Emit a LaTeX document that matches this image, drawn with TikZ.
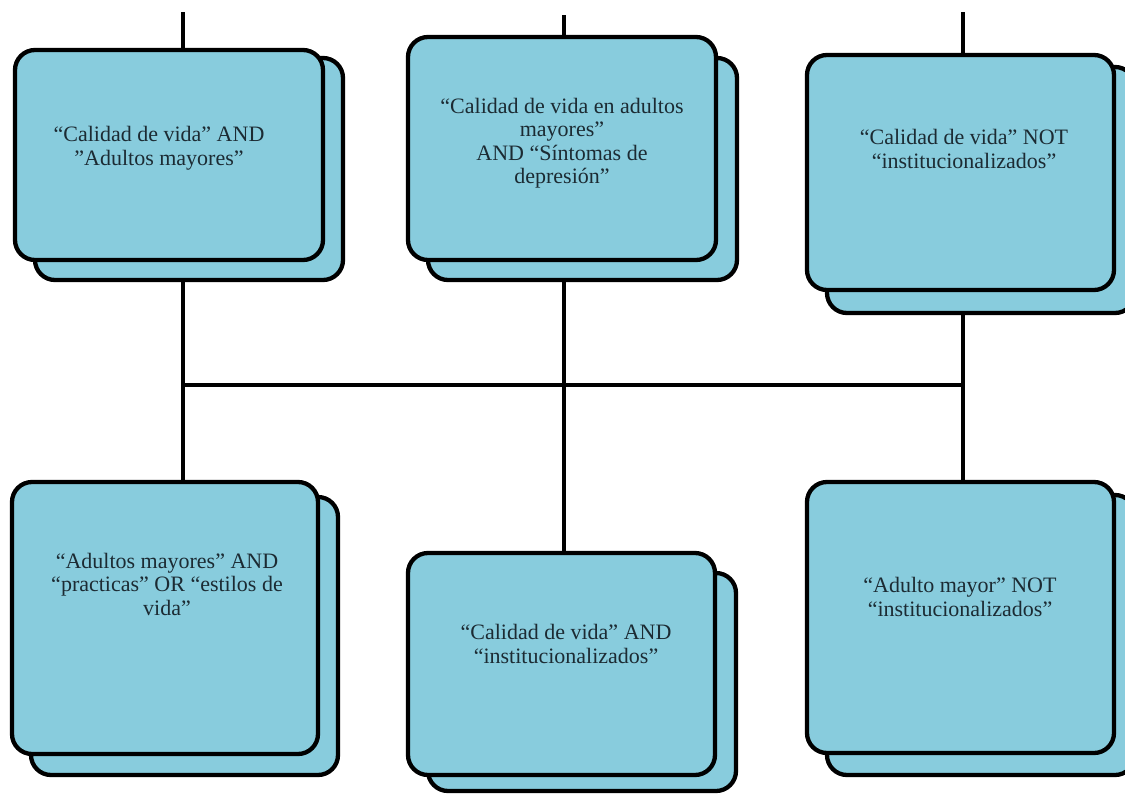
\documentclass[tikz,border=0pt]{standalone}
\usepackage{fontspec}
\setmainfont{Liberation Serif}
\usetikzlibrary{backgrounds}
\definecolor{boxfill}{HTML}{88CCDD}
\definecolor{txt}{HTML}{1C2B33}
\tikzset{
  card/.style={draw=black, line width=4.3pt, fill=boxfill, rounded corners=20pt, inner sep=0pt},
  cardtext/.style={inner sep=0pt, align=center, text=txt, font=\fontsize{22}{23.5}\selectfont},
  wire/.style={draw=black, line width=4pt}
}
\begin{document}
\begin{tikzpicture}[x=1pt,y=-1pt]
\useasboundingbox (0,0) rectangle (1125,793);
% top row
\node[card, minimum width=308pt, minimum height=222pt] (b1s) at (189,169) {};
\node[card, minimum width=308pt, minimum height=210pt] (b1) at (169,155) {};
\node[card, minimum width=309pt, minimum height=222pt] (b2s) at (582.5,169) {};
\node[card, minimum width=308pt, minimum height=223pt] (b2) at (562,148.5) {};
\node[card, minimum width=308pt, minimum height=246pt] (b3s) at (981,190) {};
\node[card, minimum width=307pt, minimum height=235pt] (b3) at (960.5,172.5) {};
% bottom row
\node[card, minimum width=307pt, minimum height=278pt] (b4s) at (184.5,636) {};
\node[card, minimum width=306pt, minimum height=272pt] (b4) at (165,618) {};
\node[card, minimum width=308pt, minimum height=218pt] (b5s) at (582,682) {};
\node[card, minimum width=307pt, minimum height=222pt] (b5) at (561.5,664) {};
\node[card, minimum width=308pt, minimum height=280pt] (b6s) at (981,635) {};
\node[card, minimum width=307pt, minimum height=271pt] (b6) at (960.5,617.5) {};
% texts
\node[cardtext] (t1) at (159,148) {“Calidad de vida” AND\\ ”Adultos mayores”};
\node[cardtext] (t2) at (562,143) {“Calidad de vida en adultos\\ mayores”\\ AND “Síntomas de\\ depresión”};
\node[cardtext] (t3) at (964,149) {“Calidad de vida” NOT\\ “institucionalizados”};
\node[cardtext] (t4) at (167,584) {“Adultos mayores” AND\\ “practicas” OR “estilos de\\ vida”};
\node[cardtext] (t5) at (566,644) {“Calidad de vida” AND\\ “institucionalizados”};
\node[cardtext] (t6) at (960,597) {“Adulto mayor” NOT\\ “institucionalizados”};
% connector end points
\coordinate (s1) at (183,12);
\coordinate (s2) at (564,15);
\coordinate (s3) at (963,12);
\coordinate (jL) at (183,385);
\coordinate (jR) at (963,385);
\begin{scope}[on background layer]
  \draw[wire] (s1) -- (s1 |- b1.center);
  \draw[wire] (s2) -- (s2 |- b2.center);
  \draw[wire] (s3) -- (s3 |- b3.center);
  \draw[wire] (s1 |- b1.center) -- (s1 |- b4.center);
  \draw[wire] (s2 |- b2.center) -- (s2 |- b5.center);
  \draw[wire] (s3 |- b3.center) -- (s3 |- b6.center);
  \draw[wire] (jL) -- (jR);
\end{scope}
\end{tikzpicture}
\end{document}
